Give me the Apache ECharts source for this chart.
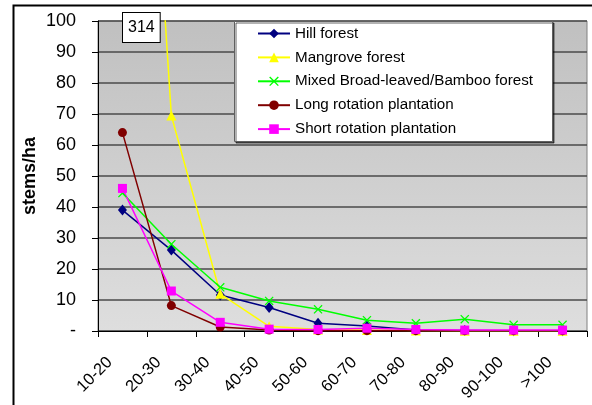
<!DOCTYPE html>
<html>
<head>
<meta charset="utf-8">
<script src="https://cdn.jsdelivr.net/npm/echarts@6/dist/echarts.min.js"></script>
<style>
  html, body { margin: 0; padding: 0; background: #fff; }
  #chart { width: 592px; height: 405px; }
</style>
</head>
<body>
<div id="chart"></div>
<script>
// Diameter classes (cm)
const classes = ['10-20', '20-30', '30-40', '40-50', '50-60', '60-70', '70-80', '80-90', '90-100', '>100'];

// Stems per hectare by forest type
const hillForest = [39, 26.1, 11.6, 7.6, 2.5, 1.6, 0.3, 0.2, 0.1, 0.1];
const mangroveForest = [314, 69.5, 12, 1.5, 0.5, 0.3, 0.2, 0.1, 0.1, 0.1];
const mixedForest = [44.5, 28, 14.1, 9.7, 7, 3.5, 2.5, 3.8, 2, 2];
const longRotation = [64, 8.2, 1.3, 0.3, 0.1, 0.1, 0.1, 0.1, 0.1, 0.1];
const shortRotation = [46, 12.9, 2.8, 0.6, 0.5, 0.9, 0.5, 0.3, 0.3, 0.3];

const yTicks = [0, 10, 20, 30, 40, 50, 60, 70, 80, 90, 100];

const FONT = 'Liberation Sans, Arial, sans-serif';
const crossPath = 'path://M0,1L1,0L5,4L9,0L10,1L6,5L10,9L9,10L5,6L1,10L0,9L4,5Z';

function lineSeries(name, data, color, symbol, size) {
  return {
    name: name,
    type: 'line',
    data: data,
    symbol: symbol,
    symbolSize: size,
    showAllSymbol: true,
    clip: true,
    lineStyle: { color: color, width: 1.5 },
    itemStyle: { color: color },
    emphasis: { disabled: true },
    animation: false
  };
}

const chart = echarts.init(document.getElementById('chart'), null, { renderer: 'canvas' });

chart.setOption({
  animation: false,
  textStyle: { fontFamily: FONT },
  grid: {
    left: 98, right: 5, top: 21, bottom: 74,
    show: true,
    borderColor: '#808080',
    borderWidth: 1,
    backgroundColor: new echarts.graphic.LinearGradient(0, 0, 0, 1, [
      { offset: 0, color: '#c0c0c0' },
      { offset: 1, color: '#dedede' }
    ])
  },
  legend: {
    orient: 'vertical',
    left: 252, top: 21,
    padding: 5,
    itemWidth: 32, itemHeight: 12,
    itemGap: 8.9,
    z: 10,
    textStyle: { fontFamily: FONT, fontSize: 15.2, color: '#000' },
    data: ['Hill forest', 'Mangrove forest', 'Mixed Broad-leaved/Bamboo forest',
           'Long rotation plantation', 'Short rotation plantation']
  },
  xAxis: {
    type: 'category',
    data: classes,
    boundaryGap: true,
    axisLine: { lineStyle: { color: '#000', width: 1 } },
    axisTick: { show: true, inside: false, length: 6, lineStyle: { color: '#000' } },
    axisLabel: {
      rotate: 45, interval: 0, margin: 16,
      padding: [0, 18, 0, 0],
      fontFamily: FONT, fontSize: 16.5, color: '#000'
    },
    splitLine: { show: false }
  },
  yAxis: {
    type: 'value',
    min: yTicks[0], max: yTicks[yTicks.length - 1], interval: 10,
    name: 'stems/ha',
    nameLocation: 'middle',
    nameGap: 58.5,
    nameMoveOverlap: false,
    nameRotate: 90,
    nameTextStyle: { fontFamily: FONT, fontSize: 18, fontWeight: 'bold', color: '#000' },
    axisLine: { show: true, lineStyle: { color: '#000', width: 1 } },
    axisTick: { show: true, inside: false, length: 6, lineStyle: { color: '#000' } },
    axisLabel: {
      margin: 22,
      fontFamily: FONT, fontSize: 18, color: '#000',
      formatter: v => (v === 0 ? '-' : String(v))
    },
    splitLine: { show: true, lineStyle: { color: '#4a4a4a', width: 1.6 } }
  },
  series: [
    lineSeries('Hill forest', hillForest, '#000080', 'diamond', [9, 11]),
    lineSeries('Mangrove forest', mangroveForest, '#ffff00', 'triangle', 10),
    lineSeries('Mixed Broad-leaved/Bamboo forest', mixedForest, '#00ff00', crossPath, 9),
    lineSeries('Long rotation plantation', longRotation, '#800000', 'circle', 9),
    lineSeries('Short rotation plantation', shortRotation, '#ff00ff', 'rect', 9)
  ],
  graphic: [
    // outer frame
    {
      type: 'rect', z: 0, silent: true,
      shape: { x: 13.5, y: 5.5, width: 600, height: 420 },
      style: { fill: null, stroke: '#000', lineWidth: 2 }
    },
    // legend panel
    {
      type: 'rect', z: 5, silent: true,
      shape: { x: 234.5, y: 21.5, width: 318, height: 120 },
      style: {
        fill: '#fff', stroke: '#606060', lineWidth: 1,
        shadowColor: 'rgba(0,0,0,0.6)', shadowOffsetX: 1.5, shadowOffsetY: 1.5, shadowBlur: 0
      }
    },
    // off-scale value of the first mangrove class
    {
      type: 'text', z: 6, silent: true,
      left: 122, top: 12,
      style: {
        text: String(mangroveForest[0]),
        font: '16px ' + FONT,
        fill: '#000',
        backgroundColor: '#fff',
        borderColor: '#000', borderWidth: 1,
        padding: [7, 5, 6, 5]
      }
    }
  ]
});
</script>
</body>
</html>
